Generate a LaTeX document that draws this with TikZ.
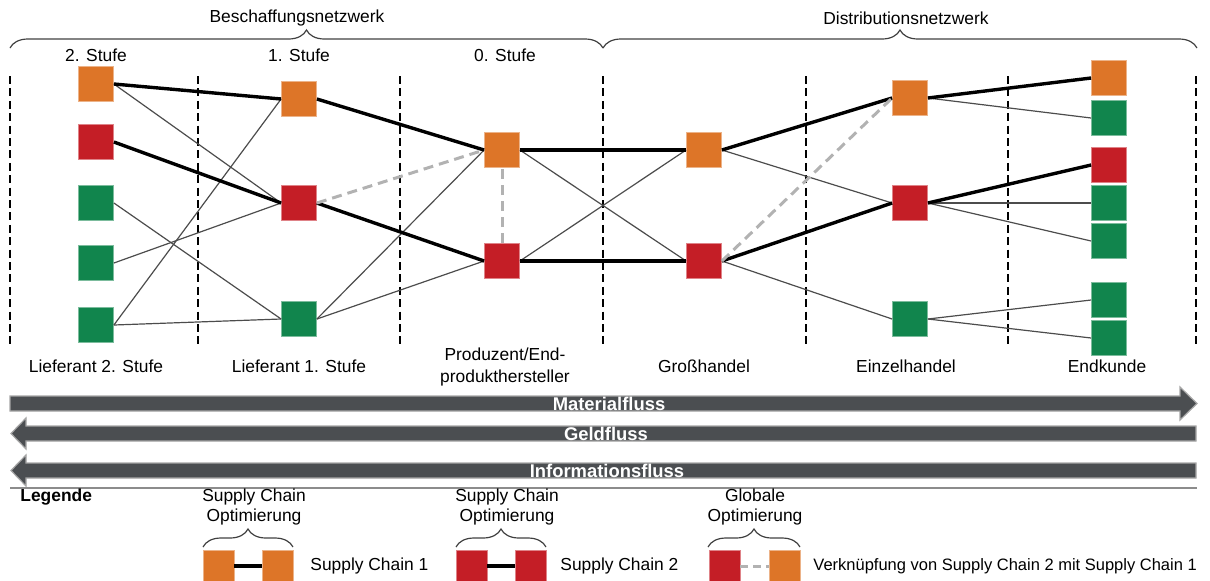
\documentclass[tikz,border=0pt]{standalone}
\usepackage{fontspec}
\setmainfont{Liberation Sans}
\usetikzlibrary{arrows.meta,calc,positioning,backgrounds,decorations.pathreplacing}
\newcommand{\XLiefZwei}{96}
\newcommand{\XLiefEins}{299}
\newcommand{\XProd}{502}
\newcommand{\XGross}{704}
\newcommand{\XEinzel}{910}
\newcommand{\XKunde}{1109}
\newcommand{\SepTop}{76}
\newcommand{\SepBot}{346}
\newcommand{\StufeY}{55}
\newcommand{\LabelY}{366}
\newcommand{\BoxSize}{17.5pt}
\newcommand{\KeySize}{15.5pt}
\newcommand{\TxtFont}{\fontsize{8.7}{10.5}\selectfont}
\definecolor{scOrange}{RGB}{221,117,40}
\definecolor{scRed}{RGB}{196,30,38}
\definecolor{scGreen}{RGB}{17,133,77}
\definecolor{flowFill}{RGB}{75,78,81}
\colorlet{flowEdge}{black!35}
\colorlet{wireColor}{black!70}
\colorlet{globColor}{black!30}
\colorlet{braceColor}{black!75}
\newcommand{\PlaceColumn}[3]{%
  % #1=prefix  #2=x  #3=list of y/colour
  \foreach \yy/\cc [count=\i] in {#3}{%
    \node[scbox, fill=\cc, draw=\cc!55!white] (#1\i) at (#2,\yy) {};
  }%
}

\begin{document}
\begin{tikzpicture}[
  x=0.5pt, y=-0.5pt,
  >=Stealth,
  lbl/.style      = {font=\TxtFont, inner sep=0pt},
  twolbl/.style   = {font=\fontsize{8.7}{10}\selectfont, align=center, inner sep=0pt},
  boldlbl/.style  = {font=\TxtFont\bfseries, inner sep=0pt},
  flowlbl/.style  = {font=\fontsize{9.2}{11}\selectfont\bfseries, text=white, inner sep=0pt},
  scbox/.style    = {rectangle, minimum size=\BoxSize, inner sep=0pt, line width=0.4pt},
  keybox/.style   = {rectangle, minimum size=\KeySize, inner sep=0pt, line width=0.4pt},
  wire/.style     = {wireColor, line width=0.6pt},
  chain/.style    = {black, line width=1.7pt},
  globlink/.style = {globColor, line width=1.5pt, dash pattern=on 5pt off 3pt},
  colsep/.style   = {black, line width=1pt, dash pattern=on 4pt off 2.2pt},
  netbrace/.style = {braceColor, line width=0.6pt, decorate,
                     decoration={brace, amplitude=9pt}},
  flowbar/.style  = {fill=flowFill, draw=flowEdge, line width=0.6pt},
]
\useasboundingbox (0,0) rectangle (1210,580);

% ----------------------------------------------------------------
% Boxes per stage
% ----------------------------------------------------------------
\PlaceColumn{A}{\XLiefZwei}{84/scOrange,142/scRed,203/scGreen,263/scGreen,325/scGreen}
\PlaceColumn{B}{\XLiefEins}{99/scOrange,203/scRed,319/scGreen}
\PlaceColumn{C}{\XProd}{150/scOrange,261/scRed}
\PlaceColumn{D}{\XGross}{150/scOrange,261/scRed}
\PlaceColumn{E}{\XEinzel}{98/scOrange,203/scRed,319/scGreen}
\PlaceColumn{F}{\XKunde}{78/scOrange,118/scGreen,165/scRed,203/scGreen,241/scGreen,300/scGreen,338/scGreen}

% ----------------------------------------------------------------
% Connections
% ----------------------------------------------------------------

% other links (thin)
\foreach \a/\b in {A1/B2, A3/B3, A4/B2, A5/B1, A5/B3, B3/C1, B3/C2,
                   C1/D2, C2/D1, D1/E2, D2/E3, E1/F2, E2/F4, E2/F5,
                   E3/F6, E3/F7}
  \draw[wire] (\a.east) -- (\b.west);

% supply chain 1 and 2 (thick)
\foreach \a/\b in {A1/B1, B1/C1, C1/D1, D1/E1, E1/F1,
                   A2/B2, B2/C2, C2/D2, D2/E2, E2/F3}
  \draw[chain] (\a.east) -- (\b.west);

% chain 2 -> chain 1 (dashed)
\draw[globlink] (B2.east) -- (C1.west);
\draw[globlink] (C2.north) -- (C1.south);
\draw[globlink] (D2.east) -- (E1.west);

% ----------------------------------------------------------------
% Stage separators
% ----------------------------------------------------------------
\begin{pgfonlayer}{background}
  \foreach \xx in {10,198,400,603,806,1008,1196}
    \draw[colsep] (\xx,\SepTop) -- (\xx,\SepBot);
\end{pgfonlayer}

% ----------------------------------------------------------------
% Titles
% ----------------------------------------------------------------
\draw[netbrace] (10,48) -- (603,48);
\draw[netbrace] (603,48) -- (1197,48);
\node[lbl] (beschaffung)  at (297,18) {Beschaffungsnetzwerk};
\node[lbl] (distribution) at (906,18) {Distributionsnetzwerk};

\node[lbl] (stufe2) at (\XLiefZwei,\StufeY) {2. Stufe};
\node[lbl] (stufe1) at (\XLiefEins,\StufeY) {1. Stufe};
\node[lbl] (stufe0) at (505,\StufeY) {0. Stufe};

% ----------------------------------------------------------------
% Bottom labels
% ----------------------------------------------------------------
\node[lbl]    (lief2)  at (\XLiefZwei,\LabelY) {Lieferant 2. Stufe};
\node[lbl]    (lief1)  at (\XLiefEins,\LabelY) {Lieferant 1. Stufe};
\node[twolbl, font=\fontsize{8.7}{11}\selectfont]
              (prod)   at (505,367) {Produzent/End-\\produkthersteller};
\node[lbl]    (gross)  at (\XGross,\LabelY)    {Großhandel};
\node[lbl]    (einzel) at (906,\LabelY)        {Einzelhandel};
\node[lbl]    (kunde)  at (1107,\LabelY)       {Endkunde};

% ----------------------------------------------------------------
% Flows
% ----------------------------------------------------------------
\filldraw[flowbar] (10,396) -- (1180,396) -- (1180,387) -- (1197,403.5)
  -- (1180,420) -- (1180,411) -- (10,411) -- cycle;
\filldraw[flowbar] (1196,426) -- (26,426) -- (26,418) -- (11,433.5)
  -- (26,449) -- (26,441) -- (1196,441) -- cycle;
\filldraw[flowbar] (1196,463) -- (26,463) -- (26,455) -- (11,470.5)
  -- (26,486) -- (26,478) -- (1196,478) -- cycle;

\node[flowlbl] (material) at (609,403.5) {Materialfluss};
\node[flowlbl] (geld)     at (606,433.5) {Geldfluss};
\node[flowlbl] (info)     at (607,470.5) {Informationsfluss};

\draw[black!45, line width=0.6pt] (10,488) -- (1197,488);

% ----------------------------------------------------------------
% Legend
% ----------------------------------------------------------------
\node[boldlbl, anchor=west] (legende) at (20,497) {Legende};

% supply chain 1
\node[keybox, fill=scOrange, draw=scOrange!55!white] (k1a) at (218.5,566) {};
\node[keybox, fill=scOrange, draw=scOrange!55!white] (k1b) at (277.5,566) {};
\draw[chain] (k1a.east) -- (k1b.west);
\draw[netbrace] (203,547) -- (293,547);
\node[twolbl] (k1title) at (254,507) {Supply Chain\\Optimierung};
\node[lbl, anchor=west] (k1text) at (310,566) {Supply Chain 1};

% supply chain 2
\node[keybox, fill=scRed, draw=scRed!55!white] (k2a) at (471.5,566) {};
\node[keybox, fill=scRed, draw=scRed!55!white] (k2b) at (530.5,566) {};
\draw[chain] (k2a.east) -- (k2b.west);
\draw[netbrace] (456,547) -- (546,547);
\node[twolbl] (k2title) at (507,507) {Supply Chain\\Optimierung};
\node[lbl, anchor=west] (k2text) at (560,566) {Supply Chain 2};

% global link
\node[keybox, fill=scRed, draw=scRed!55!white]       (k3a) at (724.5,566) {};
\node[keybox, fill=scOrange, draw=scOrange!55!white] (k3b) at (784.5,566) {};
\draw[globlink, dash pattern=on 4pt off 2.5pt] (k3a.east) -- (k3b.west);
\draw[netbrace] (708,547) -- (800,547);
\node[twolbl] (k3title) at (755,507) {Globale\\Optimierung};
\node[lbl, anchor=west, font=\fontsize{8.25}{10}\selectfont] (k3text) at (813,566)
  {Verknüpfung von Supply Chain 2 mit Supply Chain 1};

\end{tikzpicture}
\end{document}
